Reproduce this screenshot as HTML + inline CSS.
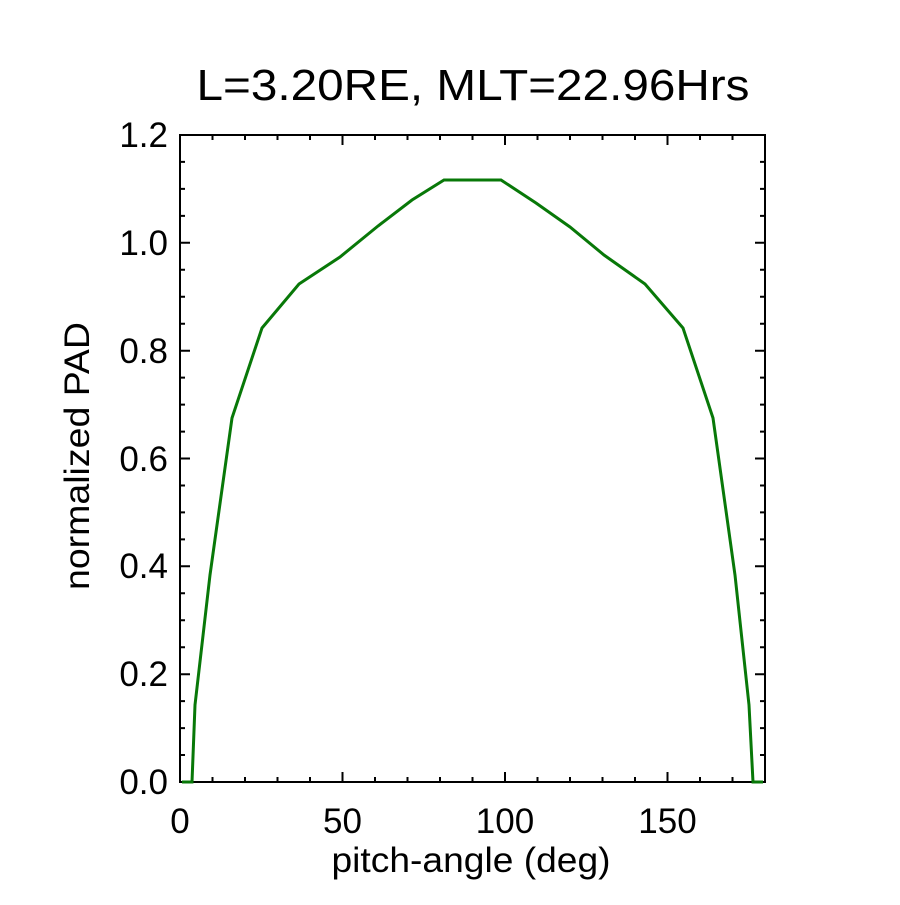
<!DOCTYPE html>
<html><head><meta charset="utf-8"><style>body{margin:0;background:#fff}</style></head><body>
<svg width="900" height="900" xmlns="http://www.w3.org/2000/svg" font-family="Liberation Sans, sans-serif">
<rect width="900" height="900" fill="#fff"/>
<text x="473" y="100" font-size="44" text-anchor="middle" textLength="553" lengthAdjust="spacingAndGlyphs">L=3.20RE, MLT=22.96Hrs</text>
<g stroke="#000" stroke-width="2" fill="none">
<rect x="180" y="135" width="585" height="647"/>
<path d="M342.5,782v-10M505,782v-10M667.5,782v-10M342.5,135v10M505,135v10M667.5,135v10
M212.5,782v-5M245,782v-5M277.5,782v-5M310,782v-5M375,782v-5M407.5,782v-5M440,782v-5M472.5,782v-5M537.5,782v-5M570,782v-5M602.5,782v-5M635,782v-5M700,782v-5M732.5,782v-5
M212.5,135v5M245,135v5M277.5,135v5M310,135v5M375,135v5M407.5,135v5M440,135v5M472.5,135v5M537.5,135v5M570,135v5M602.5,135v5M635,135v5M700,135v5M732.5,135v5"/>
<path d="M180,674.2h10M180,566.3h10M180,458.5h10M180,350.7h10M180,242.8h10M765,674.2h-10M765,566.3h-10M765,458.5h-10M765,350.7h-10M765,242.8h-10
M180,755h5M180,728.1h5M180,701.1h5M180,647.2h5M180,620.2h5M180,593.3h5M180,539.4h5M180,512.4h5M180,485.5h5M180,431.6h5M180,404.6h5M180,377.6h5M180,323.7h5M180,296.8h5M180,269.8h5M180,215.9h5M180,188.9h5M180,161.9h5
M765,755h-5M765,728.1h-5M765,701.1h-5M765,647.2h-5M765,620.2h-5M765,593.3h-5M765,539.4h-5M765,512.4h-5M765,485.5h-5M765,431.6h-5M765,404.6h-5M765,377.6h-5M765,323.7h-5M765,296.8h-5M765,269.8h-5M765,215.9h-5M765,188.9h-5M765,161.9h-5"/>
</g>
<polyline fill="none" stroke="#087808" stroke-width="3" points="182,782 192,782 195,705 210,575 232,418 262,328 299,284 340,257 378,226 412,200 444,180 501,180 536,203 570,227 604,255 645,284 683,328 713,418 735,575 749,705 753,782 763,782"/>
<g font-size="35" text-anchor="end">
<text x="168" y="794">0.0</text><text x="168" y="686">0.2</text><text x="168" y="578">0.4</text><text x="168" y="471">0.6</text><text x="168" y="363">0.8</text><text x="168" y="255">1.0</text><text x="168" y="147">1.2</text>
</g>
<g font-size="35" text-anchor="middle">
<text x="180" y="833">0</text><text x="342.5" y="833">50</text><text x="505" y="833">100</text><text x="667.5" y="833">150</text>
<text x="471" y="872" textLength="279" lengthAdjust="spacingAndGlyphs">pitch-angle (deg)</text>
<text transform="translate(89,456) rotate(-90)" textLength="268" lengthAdjust="spacingAndGlyphs">normalized PAD</text>
</g>
</svg>
</body></html>
